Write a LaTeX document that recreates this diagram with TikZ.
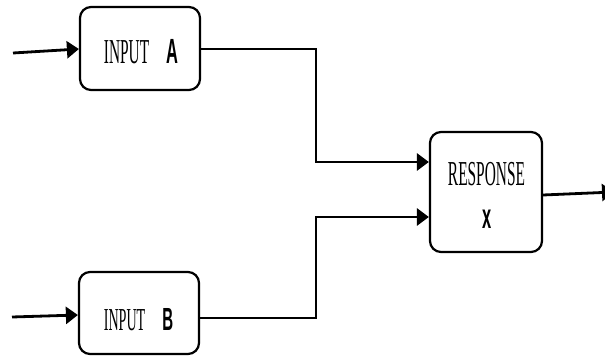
\documentclass[tikz,border=0pt]{standalone}
\usepackage{fontspec}
\setmainfont{Liberation Serif}
\newfontfamily\cserif[FakeStretch=0.44]{Liberation Serif}
\newfontfamily\csans[FakeStretch=0.47]{Liberation Sans}
\usetikzlibrary{arrows.meta}
\tikzset{
  blockbox/.style={draw=black, line width=2.2pt, rounded corners=11pt, inner sep=0pt},
  conn/.style={line width=2.8pt, draw=black},
  arr/.style={conn, -{Triangle[length=12pt,width=17pt]}},
  lbl/.style={inner sep=0pt, anchor=base, font=\fontsize{35}{38}\selectfont},
}
\begin{document}
\begin{tikzpicture}[x=1pt,y=-1pt]
\useasboundingbox (0,0) rectangle (605,356);
% boxes
\node[blockbox, minimum width=120pt, minimum height=83pt] (A) at (140,48.5) {};
\node[blockbox, minimum width=120pt, minimum height=82pt] (B) at (139,313) {};
\node[blockbox, minimum width=112pt, minimum height=120pt] (R) at (486,192) {};
% labels
\node[lbl] (at) at (141,63) {{\cserif INPUT}\hspace{17pt}{\csans\bfseries A}};
\node[lbl, font=\fontsize{32}{34}\selectfont] (bt) at (138.5,330) {{\cserif INPUT}\hspace{17pt}{\csans\bfseries B}};
\node[lbl] (rt) at (486.5,185) {\cserif RESPONSE};
\node[lbl] (xt) at (487,228) {\csans\bfseries x};
% free ends
\coordinate (ain) at (13,53);
\coordinate (bin) at (12,317);
\coordinate (rout) at (614,192);
% connectors
\draw[arr] (ain) -- (A.west |- 0,49);
\draw[arr] (bin) -- (B.west |- 0,315);
\draw[arr] (A.east |- 0,49) -- (316,49) -- (316,162) -- (R.west |- 0,162);
\draw[arr] (B.east |- 0,318) -- (316,318) -- (316,217) -- (R.west |- 0,217);
\draw[arr] (R.east |- 0,195) -- (rout);
\end{tikzpicture}
\end{document}
